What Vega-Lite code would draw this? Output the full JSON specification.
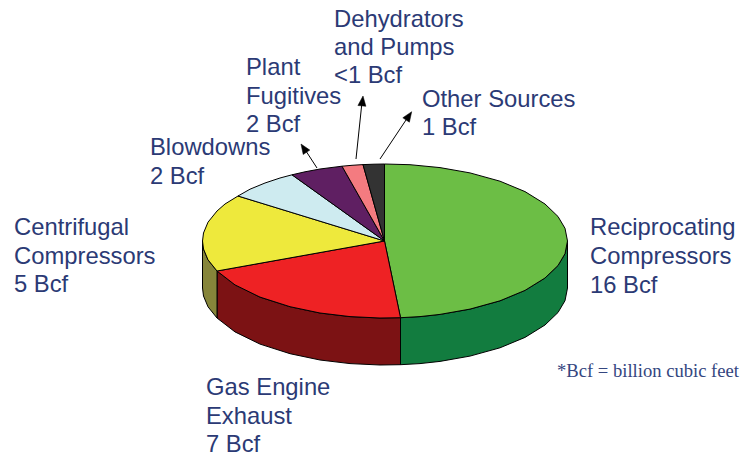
{
"$schema":"https://vega.github.io/schema/vega-lite/v6.json",
"width":743,"height":457,"padding":0,"autosize":"none","background":"white",
"view":{"stroke":null},
"config":{"axis":{"domain":false}},
"datasets":{
"faces":[
{"part":"Reciprocating Compressors side","i":0,"x":567.5,"y":241},{"part":"Reciprocating Compressors side","i":1,"x":565,"y":253.7},{"part":"Reciprocating Compressors side","i":2,"x":558,"y":265.5},{"part":"Reciprocating Compressors side","i":3,"x":545,"y":278},{"part":"Reciprocating Compressors side","i":4,"x":525,"y":290.4},{"part":"Reciprocating Compressors side","i":5,"x":500,"y":300.8},{"part":"Reciprocating Compressors side","i":6,"x":470,"y":309.1},{"part":"Reciprocating Compressors side","i":7,"x":440,"y":314.4},{"part":"Reciprocating Compressors side","i":8,"x":420,"y":316.6},{"part":"Reciprocating Compressors side","i":9,"x":400.5,"y":317.7},
{"part":"Reciprocating Compressors side","i":10,"x":400.5,"y":364.7},{"part":"Reciprocating Compressors side","i":11,"x":420,"y":363.6},{"part":"Reciprocating Compressors side","i":12,"x":440,"y":361.4},{"part":"Reciprocating Compressors side","i":13,"x":470,"y":356.1},{"part":"Reciprocating Compressors side","i":14,"x":500,"y":347.8},{"part":"Reciprocating Compressors side","i":15,"x":525,"y":337.4},{"part":"Reciprocating Compressors side","i":16,"x":545,"y":325},{"part":"Reciprocating Compressors side","i":17,"x":558,"y":312.5},{"part":"Reciprocating Compressors side","i":18,"x":565,"y":300.7},{"part":"Reciprocating Compressors side","i":19,"x":567.5,"y":288},
{"part":"Gas Engine Exhaust side","i":0,"x":400.5,"y":317.7},{"part":"Gas Engine Exhaust side","i":1,"x":380,"y":318},{"part":"Gas Engine Exhaust side","i":2,"x":350,"y":316.6},{"part":"Gas Engine Exhaust side","i":3,"x":320,"y":313},{"part":"Gas Engine Exhaust side","i":4,"x":290,"y":306.7},{"part":"Gas Engine Exhaust side","i":5,"x":260,"y":297.1},{"part":"Gas Engine Exhaust side","i":6,"x":235,"y":284.9},{"part":"Gas Engine Exhaust side","i":7,"x":217,"y":271},
{"part":"Gas Engine Exhaust side","i":8,"x":217,"y":318},{"part":"Gas Engine Exhaust side","i":9,"x":235,"y":331.9},{"part":"Gas Engine Exhaust side","i":10,"x":260,"y":344.1},{"part":"Gas Engine Exhaust side","i":11,"x":290,"y":353.7},{"part":"Gas Engine Exhaust side","i":12,"x":320,"y":360},{"part":"Gas Engine Exhaust side","i":13,"x":350,"y":363.6},{"part":"Gas Engine Exhaust side","i":14,"x":380,"y":365},{"part":"Gas Engine Exhaust side","i":15,"x":400.5,"y":364.7},
{"part":"Centrifugal Compressors side","i":0,"x":217,"y":271},{"part":"Centrifugal Compressors side","i":1,"x":208,"y":259.8},{"part":"Centrifugal Compressors side","i":2,"x":203.5,"y":249},{"part":"Centrifugal Compressors side","i":3,"x":202.5,"y":241},{"part":"Centrifugal Compressors side","i":4,"x":202.5,"y":288},{"part":"Centrifugal Compressors side","i":5,"x":203.5,"y":296},{"part":"Centrifugal Compressors side","i":6,"x":208,"y":306.8},{"part":"Centrifugal Compressors side","i":7,"x":217,"y":318},
{"part":"Reciprocating Compressors","i":0,"x":384.5,"y":241},{"part":"Reciprocating Compressors","i":1,"x":384.5,"y":164},{"part":"Reciprocating Compressors","i":2,"x":410,"y":164.7},{"part":"Reciprocating Compressors","i":3,"x":440,"y":167.6},{"part":"Reciprocating Compressors","i":4,"x":470,"y":172.9},{"part":"Reciprocating Compressors","i":5,"x":500,"y":181.2},{"part":"Reciprocating Compressors","i":6,"x":525,"y":191.6},{"part":"Reciprocating Compressors","i":7,"x":545,"y":204},{"part":"Reciprocating Compressors","i":8,"x":558,"y":216.5},{"part":"Reciprocating Compressors","i":9,"x":565,"y":228.3},{"part":"Reciprocating Compressors","i":10,"x":567.5,"y":241},{"part":"Reciprocating Compressors","i":11,"x":565,"y":253.7},{"part":"Reciprocating Compressors","i":12,"x":558,"y":265.5},{"part":"Reciprocating Compressors","i":13,"x":545,"y":278},{"part":"Reciprocating Compressors","i":14,"x":525,"y":290.4},{"part":"Reciprocating Compressors","i":15,"x":500,"y":300.8},{"part":"Reciprocating Compressors","i":16,"x":470,"y":309.1},{"part":"Reciprocating Compressors","i":17,"x":440,"y":314.4},{"part":"Reciprocating Compressors","i":18,"x":420,"y":316.6},{"part":"Reciprocating Compressors","i":19,"x":400.5,"y":317.7},
{"part":"Gas Engine Exhaust","i":0,"x":384.5,"y":241},{"part":"Gas Engine Exhaust","i":1,"x":400.5,"y":317.7},{"part":"Gas Engine Exhaust","i":2,"x":380,"y":318},{"part":"Gas Engine Exhaust","i":3,"x":350,"y":316.6},{"part":"Gas Engine Exhaust","i":4,"x":320,"y":313},{"part":"Gas Engine Exhaust","i":5,"x":290,"y":306.7},{"part":"Gas Engine Exhaust","i":6,"x":260,"y":297.1},{"part":"Gas Engine Exhaust","i":7,"x":235,"y":284.9},{"part":"Gas Engine Exhaust","i":8,"x":217,"y":271},
{"part":"Centrifugal Compressors","i":0,"x":384.5,"y":241},{"part":"Centrifugal Compressors","i":1,"x":217,"y":271},{"part":"Centrifugal Compressors","i":2,"x":208,"y":259.8},{"part":"Centrifugal Compressors","i":3,"x":203.5,"y":249},{"part":"Centrifugal Compressors","i":4,"x":202.5,"y":241},{"part":"Centrifugal Compressors","i":5,"x":203.5,"y":233},{"part":"Centrifugal Compressors","i":6,"x":208,"y":222.2},{"part":"Centrifugal Compressors","i":7,"x":217,"y":211},{"part":"Centrifugal Compressors","i":8,"x":225,"y":204},{"part":"Centrifugal Compressors","i":9,"x":238,"y":196},
{"part":"Blowdowns","i":0,"x":384.5,"y":241},{"part":"Blowdowns","i":1,"x":238,"y":196},{"part":"Blowdowns","i":2,"x":250,"y":189.2},{"part":"Blowdowns","i":3,"x":265,"y":183},{"part":"Blowdowns","i":4,"x":280,"y":178},{"part":"Blowdowns","i":5,"x":292,"y":174.8},
{"part":"Plant Fugitives","i":0,"x":384.5,"y":241},{"part":"Plant Fugitives","i":1,"x":292,"y":174.8},{"part":"Plant Fugitives","i":2,"x":305,"y":171.8},{"part":"Plant Fugitives","i":3,"x":320,"y":169},{"part":"Plant Fugitives","i":4,"x":342,"y":166.2},
{"part":"Dehydrators and Pumps","i":0,"x":384.5,"y":241},{"part":"Dehydrators and Pumps","i":1,"x":342,"y":166.2},{"part":"Dehydrators and Pumps","i":2,"x":352,"y":165.3},{"part":"Dehydrators and Pumps","i":3,"x":363,"y":164.6},
{"part":"Other Sources","i":0,"x":384.5,"y":241},{"part":"Other Sources","i":1,"x":363,"y":164.6},{"part":"Other Sources","i":2,"x":374,"y":164.2},{"part":"Other Sources","i":3,"x":384.5,"y":164}
],
"heads":[
{"arrow":"Plant Fugitives","i":0,"x":301,"y":144},{"arrow":"Plant Fugitives","i":1,"x":309.8,"y":150.1},{"arrow":"Plant Fugitives","i":2,"x":303.2,"y":154.5},
{"arrow":"Dehydrators and Pumps","i":0,"x":363,"y":96},{"arrow":"Dehydrators and Pumps","i":1,"x":365.9,"y":106.3},{"arrow":"Dehydrators and Pumps","i":2,"x":357.9,"y":105.5},
{"arrow":"Other Sources","i":0,"x":411.7,"y":111.7},{"arrow":"Other Sources","i":1,"x":409.4,"y":122.2},{"arrow":"Other Sources","i":2,"x":402.8,"y":117.8}
],
"shafts":[
{"arrow":"Plant Fugitives","x":317,"y":168,"x2":304,"y2":148},
{"arrow":"Dehydrators and Pumps","x":356,"y":159,"x2":362,"y2":102},
{"arrow":"Other Sources","x":380,"y":159,"x2":408,"y2":117}
],
"labels":[
{"text":"Dehydrators","x":334,"y":27},{"text":"and Pumps","x":334,"y":55},{"text":"<1 Bcf","x":334,"y":83},
{"text":"Other Sources","x":422,"y":107},{"text":"1 Bcf","x":422,"y":135},
{"text":"Plant","x":246,"y":75},{"text":"Fugitives","x":246,"y":104},{"text":"2 Bcf","x":246,"y":132},
{"text":"Blowdowns","x":150,"y":155},{"text":"2 Bcf","x":150,"y":184},
{"text":"Centrifugal","x":14,"y":235},{"text":"Compressors","x":14,"y":264},{"text":"5 Bcf","x":14,"y":292},
{"text":"Reciprocating","x":590,"y":235},{"text":"Compressors","x":590,"y":264},{"text":"16 Bcf","x":590,"y":293},
{"text":"Gas Engine","x":206,"y":395},{"text":"Exhaust","x":206,"y":424},{"text":"7 Bcf","x":206,"y":452}
],
"notes":[{"text":"*Bcf = billion cubic feet","x":557,"y":377}]
},
"layer":[
{"data":{"name":"faces"},
"mark":{"type":"line","interpolate":"linear-closed","stroke":"black","strokeWidth":1,"strokeJoin":"round"},
"encoding":{
"x":{"field":"x","type":"quantitative","scale":{"domain":[0,743]},"axis":null},
"y":{"field":"y","type":"quantitative","scale":{"domain":[457,0]},"axis":null},
"order":{"field":"i","type":"ordinal"},
"detail":{"field":"part"},
"fill":{"field":"part","type":"nominal","legend":null,"scale":{
"domain":["Reciprocating Compressors side","Gas Engine Exhaust side","Centrifugal Compressors side","Reciprocating Compressors","Gas Engine Exhaust","Centrifugal Compressors","Blowdowns","Plant Fugitives","Dehydrators and Pumps","Other Sources"],
"range":["#127c3f","#7c1214","#86853a","#6cbe45","#ee2224","#eee93c","#ceebf0","#5f1f62","#f47b80","#333333"]}}
}},
{"data":{"name":"shafts"},
"mark":{"type":"rule","stroke":"black","strokeWidth":1},
"encoding":{
"x":{"field":"x","type":"quantitative","scale":{"domain":[0,743]},"axis":null},
"y":{"field":"y","type":"quantitative","scale":{"domain":[457,0]},"axis":null},
"x2":{"field":"x2"},"y2":{"field":"y2"}
}},
{"data":{"name":"heads"},
"mark":{"type":"line","interpolate":"linear-closed","fill":"black","stroke":"black","strokeWidth":0.5},
"encoding":{
"x":{"field":"x","type":"quantitative","scale":{"domain":[0,743]},"axis":null},
"y":{"field":"y","type":"quantitative","scale":{"domain":[457,0]},"axis":null},
"order":{"field":"i","type":"ordinal"},
"detail":{"field":"arrow"}
}},
{"data":{"name":"labels"},
"mark":{"type":"text","font":"Liberation Sans","fontSize":23.8,"align":"left","baseline":"alphabetic","fill":"#2b3a75"},
"encoding":{
"x":{"field":"x","type":"quantitative","scale":{"domain":[0,743]},"axis":null},
"y":{"field":"y","type":"quantitative","scale":{"domain":[457,0]},"axis":null},
"text":{"field":"text"}
}},
{"data":{"name":"notes"},
"mark":{"type":"text","font":"Liberation Serif","fontSize":18.6,"align":"left","baseline":"alphabetic","fill":"#34467f"},
"encoding":{
"x":{"field":"x","type":"quantitative","scale":{"domain":[0,743]},"axis":null},
"y":{"field":"y","type":"quantitative","scale":{"domain":[457,0]},"axis":null},
"text":{"field":"text"}
}}
]
}
